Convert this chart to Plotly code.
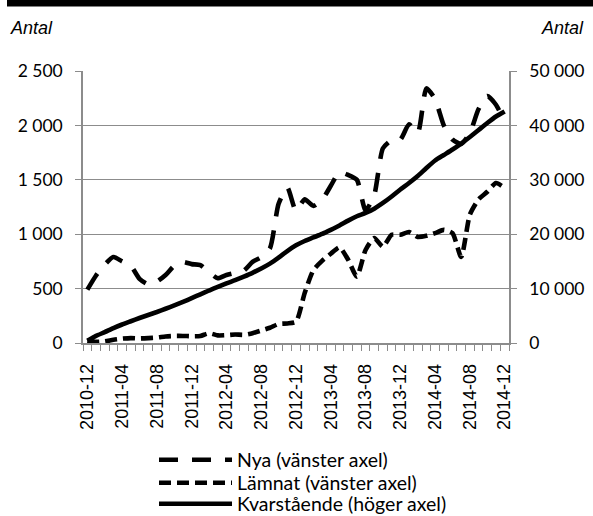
import plotly.graph_objects as go

# ---- data ----
months = ["2010-12"] + [f"{y}-{m:02d}" for y in (2011, 2012, 2013, 2014) for m in range(1, 13)]
tick_labels = ["2010-12", "2011-04", "2011-08", "2011-12", "2012-04", "2012-08", "2012-12",
               "2013-04", "2013-08", "2013-12", "2014-04", "2014-08", "2014-12"]

nya = [490, 620, 720, 790, 750, 710, 590, 540, 565, 625, 710, 745, 725, 715, 650, 595,
       625, 645, 665, 745, 790, 870, 1280, 1430, 1215, 1320, 1260, 1315, 1445, 1570,
       1545, 1500, 1220, 1360, 1790, 1865, 1870, 2010, 1930, 2340, 2240, 2000, 1870,
       1830, 1930, 2150, 2270, 2190, 2030]

lamnat = [20, 10, 15, 30, 40, 45, 42, 45, 50, 60, 65, 65, 62, 65, 90, 70, 72, 78, 75,
          90, 115, 140, 175, 180, 195, 460, 670, 755, 820, 880, 765, 610, 855, 965, 885,
          995, 995, 1020, 975, 985, 1010, 1040, 1010, 790, 1180, 1320, 1390, 1470, 1425]

kvar = [400, 1300, 2000, 2750, 3400, 4000, 4600, 5150, 5700, 6300, 6900, 7550, 8250,
        8950, 9650, 10300, 10950, 11550, 12200, 12900, 13700, 14600, 15700, 16900,
        17950, 18750, 19400, 20050, 20800, 21600, 22500, 23300, 23900, 24700, 25740,
        26930, 28220, 29410, 30700, 32170, 33550, 34560, 35570, 36670, 37870, 39150,
        40440, 41640, 42560]

names = ["Nya (vänster axel)", "Lämnat (vänster axel)", "Kvarstående (höger axel)"]

# ---- figure ----
W, H = 593, 516
L, R, T, B = 83, 509, 71, 343          # plot area in pixels
PW, PH = R - L, B - T


def px(x):
    return (x - L) / PW


def py(y):
    return (B - y) / PH


idx = list(range(len(months)))
tick_pos = [months.index(t) for t in tick_labels]
GRID = "#8c8c8c"
FONT_NUM = "Lato"

fig = go.Figure()
fig.add_trace(go.Scatter(x=idx, y=nya, name=names[0], mode="lines", legend="legend",
                         line=dict(color="black", width=4.6, dash="19px,14px",
                                   shape="spline", smoothing=0.6)))
fig.add_trace(go.Scatter(x=idx, y=lamnat, name=names[1], mode="lines", legend="legend2",
                         line=dict(color="black", width=4.6, dash="12px,6px",
                                   shape="spline", smoothing=0.6)))
fig.add_trace(go.Scatter(x=idx, y=kvar, name=names[2], mode="lines", yaxis="y2",
                         legend="legend3",
                         line=dict(color="black", width=4.6,
                                   shape="spline", smoothing=0.6)))

leg_common = dict(x=px(154), xanchor="left", yanchor="middle",
                  font=dict(family=FONT_NUM, size=19.5, color="black"),
                  itemwidth=73, bgcolor="rgba(0,0,0,0)", borderwidth=0)

fig.update_layout(
    width=W, height=H,
    margin=dict(l=L, r=W - R, t=T, b=H - B, autoexpand=False),
    paper_bgcolor="white", plot_bgcolor="white",
    separators=", ",
    showlegend=True,
    legend=dict(y=py(460), **leg_common),
    legend2=dict(y=py(483), **leg_common),
    legend3=dict(y=py(504), **leg_common),
    xaxis=dict(range=[-0.5, len(months) - 0.5], tickmode="array", tickvals=tick_pos,
               ticktext=tick_labels, tickangle=-90, ticks="", automargin=False,
               tickfont=dict(family="Liberation Sans", size=18, color="black"),
               ticklabelstandoff=12,
               showline=True, linecolor=GRID, linewidth=1.5, showgrid=False, zeroline=False,
               minor=dict(tickmode="array", tickvals=[k - 0.5 for k in range(len(months) + 1)],
                          ticks="outside", ticklen=6, tickcolor=GRID, tickwidth=1.3,
                          showgrid=False)),
    yaxis=dict(range=[0, 2500], dtick=500, tickformat=",d", ticks="outside", ticklen=6,
               tickcolor=GRID, tickwidth=1.3, automargin=False,
               showline=True, linecolor=GRID, linewidth=1.5, showgrid=True,
               gridcolor=GRID, gridwidth=1.3, zeroline=False,
               tickfont=dict(family=FONT_NUM, size=17.5, color="black"),
               ticklabelstandoff=9),
    yaxis2=dict(range=[0, 50000], dtick=10000, tickformat=",d", overlaying="y", side="right",
                ticks="outside", ticklen=6, tickcolor=GRID, tickwidth=1.3, automargin=False,
                showline=True, linecolor=GRID, linewidth=1.5, showgrid=False, zeroline=False,
                tickfont=dict(family=FONT_NUM, size=17.5, color="black"),
                ticklabelstandoff=9),
    shapes=[dict(type="rect", xref="paper", yref="paper", x0=px(7), x1=px(600),
                 y0=py(6.5), y1=py(-5), fillcolor="black", line=dict(width=0))],
    annotations=[
        dict(text="<i>Antal</i>", xref="paper", yref="paper", x=px(8), y=py(28),
             xanchor="left", yanchor="middle", showarrow=False,
             font=dict(family="Liberation Sans", size=18, color="black")),
        dict(text="<i>Antal</i>", xref="paper", yref="paper", x=px(586), y=py(28),
             xanchor="right", yanchor="middle", showarrow=False,
             font=dict(family="Liberation Sans", size=18, color="black")),
    ],
)

fig.write_html("out.html", config={"displayModeBar": False},
               post_script="document.body.style.margin='0';")
